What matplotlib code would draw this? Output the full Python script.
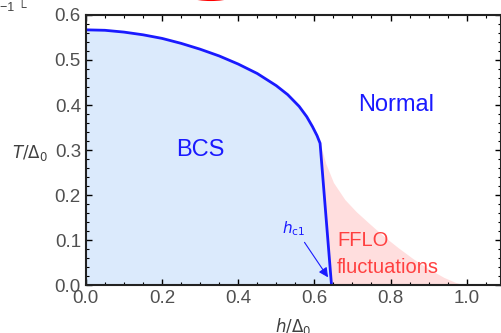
import numpy as np
import matplotlib
matplotlib.use('Agg')
import matplotlib.pyplot as plt
from matplotlib.patches import Ellipse
from matplotlib.ticker import MultipleLocator

# BCS phase boundary T_c(h)
h_bcs = [0.0, 0.05, 0.1, 0.15, 0.2, 0.25, 0.3, 0.35, 0.4, 0.45, 0.5, 0.53, 0.56, 0.58, 0.595, 0.607, 0.615, 0.645]
t_bcs = [0.567, 0.566, 0.562, 0.556, 0.548, 0.537, 0.524, 0.509, 0.491, 0.47, 0.443, 0.423, 0.397, 0.374, 0.352, 0.332, 0.315, 0.0]

# upper edge of the FFLO fluctuation region
h_fflo = [0.615, 0.63, 0.65, 0.68, 0.71, 0.74, 0.78, 0.82, 0.86, 0.9, 0.94, 0.97, 0.995]
t_fflo = [0.315, 0.27, 0.228, 0.19, 0.163, 0.14, 0.11, 0.083, 0.058, 0.036, 0.017, 0.006, 0.0]

plt.rcParams['font.family'] = ['Liberation Sans', 'DejaVu Sans']

fig = plt.figure(figsize=(5.02, 3.33), dpi=100)
ax = fig.add_axes([0.171, 0.144, 0.827, 0.811])

blue = '#1a1aff'
ax.fill_between(h_fflo, t_fflo, 0, color='#ffdede', lw=0)
ax.fill_between(h_bcs, t_bcs, 0, color='#dbeafc', lw=0)
ax.plot(h_bcs, t_bcs, color=blue, lw=2)

ax.text(0.30, 0.30, 'BCS', color=blue, fontsize=17, ha='center', va='center')
ax.text(0.815, 0.40, 'Normal', color=blue, fontsize=17, ha='center', va='center')
ax.text(0.66, 0.10, 'FFLO', color='#ff4040', fontsize=14.5, ha='left', va='center')
ax.text(0.66, 0.038, 'fluctuations', color='#ff4040', fontsize=14.5, ha='left', va='center')
ax.text(0.545, 0.125, r'$h_{\rm c1}$', color=blue, fontsize=11, ha='center', va='center')
ax.annotate('', xy=(0.64, 0.012), xytext=(0.57, 0.1),
            arrowprops=dict(arrowstyle='-|>', color=blue, lw=0.8, mutation_scale=14))

ax.set_xlim(0, 1.09)
ax.set_ylim(0, 0.6)
ax.xaxis.set_major_locator(MultipleLocator(0.2))
ax.xaxis.set_minor_locator(MultipleLocator(0.05))
ax.yaxis.set_major_locator(MultipleLocator(0.1))
ax.yaxis.set_minor_locator(MultipleLocator(0.02))
ax.xaxis.set_major_formatter(matplotlib.ticker.FormatStrFormatter('%.1f'))
ax.yaxis.set_major_formatter(matplotlib.ticker.FormatStrFormatter('%.1f'))
ax.tick_params(which='both', direction='in', top=True, right=True, labelsize=13.5,
               labelcolor='#505050', color='black')
ax.tick_params(which='major', length=4, width=1)
ax.tick_params(which='minor', length=2, width=0.8)
for s in ax.spines.values():
    s.set_linewidth(1.5)
    s.set_color('#222222')

ax.set_xlabel(r'$h/\Delta_0$', fontsize=12, color='#404040', va='top')
ax.set_ylabel(r'$T/\Delta_0$', fontsize=12, color='#404040', rotation=0, va='center', ha='center')
ax.xaxis.set_label_coords(0.5, -0.115)
ax.yaxis.set_label_coords(-0.135, 0.49)

# cropped fragments at the top of the original
fig.text(0.0, 0.995, '\u22121 \u2514', fontsize=9, color='#404040', ha='left', va='top')
fig.patches.append(Ellipse((0.42, 1.03), 0.12, 0.06, transform=fig.transFigure,
                           fill=False, ec='red', lw=1.5))

fig.savefig('out.png', dpi=100)
